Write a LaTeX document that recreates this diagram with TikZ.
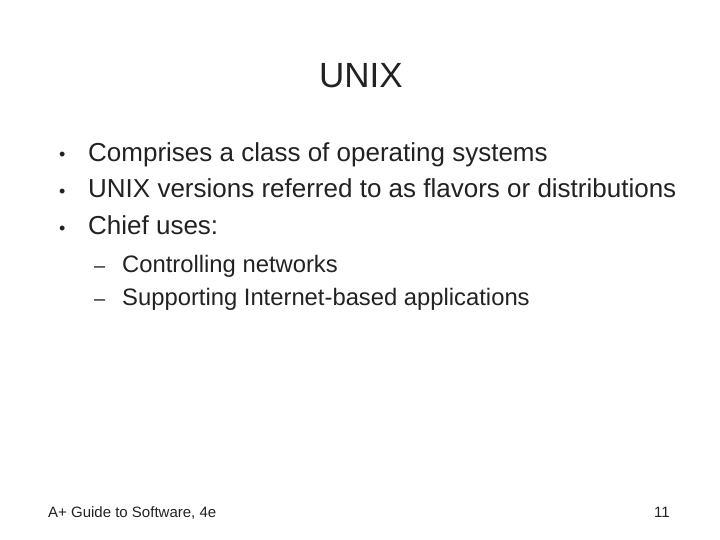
\documentclass[tikz,border=0pt]{standalone}
\usepackage{fontspec}
\setmainfont{Liberation Sans}
\definecolor{txt}{HTML}{222222}
\begin{document}
\begin{tikzpicture}[x=1pt,y=-1pt,
  every node/.style={inner sep=0pt,text=txt},
  lvl/.style={anchor=base west,font=\fontsize{26}{30}\selectfont},
  blt/.style={anchor=base west,font=\fontsize{18}{20}\selectfont},
  sub/.style={anchor=base west,font=\fontsize{23.8}{27}\selectfont}]
\tikzset{foot/.style={font=\fontsize{15}{18}\selectfont}}
\useasboundingbox (0,0) rectangle (720,540);
\node[anchor=base,font=\fontsize{35}{40}\selectfont] (title) at (361,88) {UNIX};
\node[blt] (b1) at (59,161) {•};
\node[lvl] (t1) at (88,162) {Comprises a class of operating systems};
\node[blt] (b2) at (59,197) {•};
\node[lvl] (t2) at (88,198) {UNIX versions referred to as flavors or distributions};
\node[blt] (b3) at (59,234) {•};
\node[lvl] (t3) at (88,235) {Chief uses:};
\node[sub,font=\fontsize{20}{22}\selectfont] (d1) at (94,272) {–};
\node[sub] (s1) at (122,272) {Controlling networks};
\node[sub,font=\fontsize{20}{22}\selectfont] (d2) at (94,305) {–};
\node[sub] (s2) at (122,305) {Supporting Internet-based applications};
\node[foot,anchor=base west] (f1) at (48,517) {A+ Guide to Software, 4e};
\node[foot,anchor=base east] (f2) at (670,517) {11};
\end{tikzpicture}
\end{document}
